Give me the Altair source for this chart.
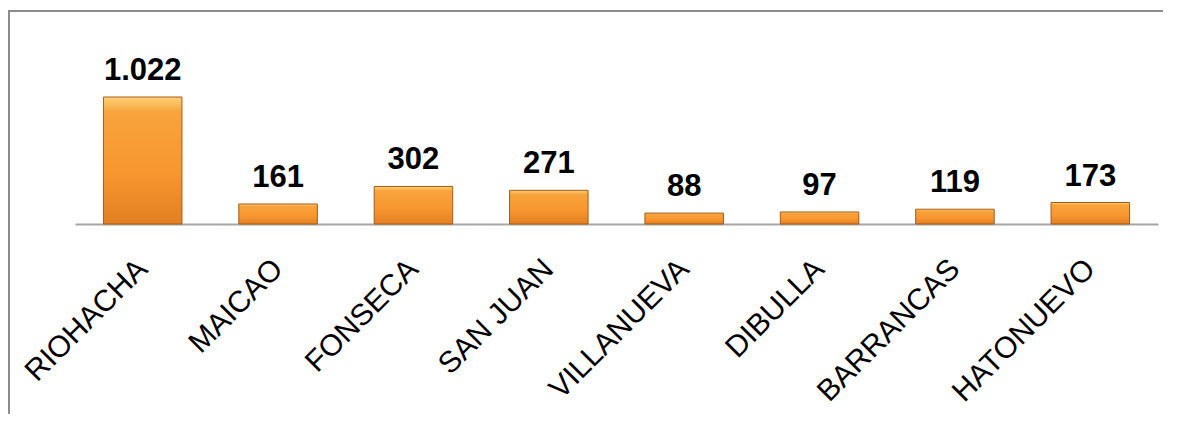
import altair as alt
import pandas as pd

municipios = ["RIOHACHA", "MAICAO", "FONSECA", "SAN JUAN", "VILLANUEVA", "DIBULLA", "BARRANCAS", "HATONUEVO"]
valores = [1022, 161, 302, 271, 88, 97, 119, 173]

df = pd.DataFrame({
    "municipio": municipios,
    "valor": valores,
    "etiqueta": [f"{v:,}".replace(",", ".") for v in valores],
})

W, H = 1083, 127
font = "Liberation Sans"

x = alt.X("municipio:N", sort=municipios, title=None,
          scale=alt.Scale(paddingInner=0.42, paddingOuter=0.21),
          axis=alt.Axis(labelAngle=-45, labelAlign="right", labelBaseline="middle",
                        labelPadding=40, ticks=False, domainColor="#a6a6a6", domainWidth=2,
                        labelFont=font, labelFontSize=30, labelColor="#000000", labelLimit=400))
y = alt.Y("valor:Q", title=None, scale=alt.Scale(domain=[0, 1022], nice=False), axis=None)

grad = alt.Gradient(
    gradient="linear", x1=0, y1=0, x2=0, y2=1,
    stops=[alt.GradientStop(offset=0, color="#fcd27a"),
           alt.GradientStop(offset=0.12, color="#f8a33c"),
           alt.GradientStop(offset=0.6, color="#f7962f"),
           alt.GradientStop(offset=1, color="#e27f22")])

bars = alt.Chart(df).mark_bar(fill=grad, stroke="#a85a17", strokeWidth=1).encode(x=x, y=y)

texts = alt.Chart(df).mark_text(baseline="alphabetic", dy=-17, font=font, fontSize=31,
                                fontWeight="bold", color="#000000").encode(
    x=alt.X("municipio:N", sort=municipios), y="valor:Q", text="etiqueta:N")

frame_top = alt.Chart(df).mark_rule(color="#8c8c8c", strokeWidth=2).encode(
    x=alt.value(-67), x2=alt.value(W + 30), y=alt.value(-86))
frame_left = alt.Chart(df).mark_rule(color="#8c8c8c", strokeWidth=2).encode(
    x=alt.value(-66), y=alt.value(-87), y2=alt.value(H + 240))

chart = alt.layer(bars, texts, frame_top, frame_left).properties(
    width=W, height=H,
    padding={"left": 67, "top": 89, "right": 5, "bottom": 190},
    autosize=alt.AutoSizeParams(type="none"),
).configure_view(stroke=None)

chart.save("out.html", embed_options={"renderer": "svg", "actions": False})
